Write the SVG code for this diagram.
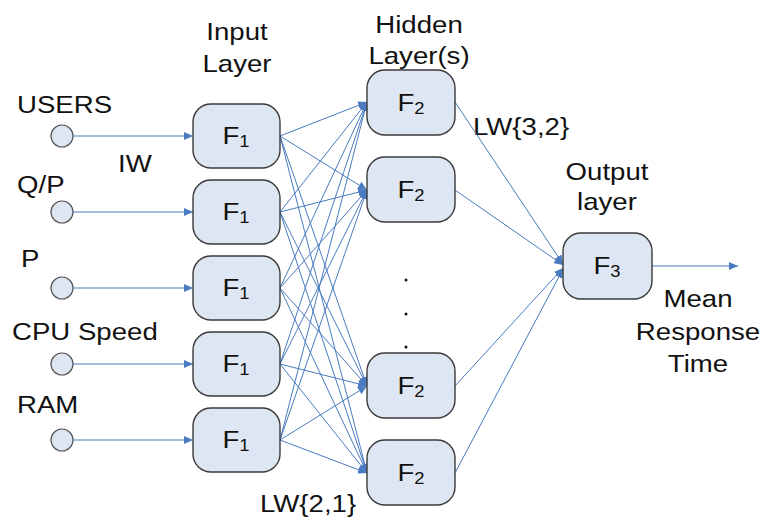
<svg xmlns="http://www.w3.org/2000/svg" width="762" height="520" viewBox="0 0 762 520">
  <style>
    text { font-family: "Liberation Sans", Arial, sans-serif; font-size: 24px; fill: #111; }
    .mid { text-anchor: middle; }
    .sub { font-size: 16px; }
    .box { fill: #dde6f2; stroke: #3a3a3a; stroke-width: 1.4; }
    .inp { fill: #dde6f2; stroke: #555; stroke-width: 1.2; }
    .wire { stroke: #4a7bc0; stroke-width: 1; fill: none; marker-end: url(#arr); }
    .dot { fill: #111; }
  </style>
  <defs>
    <marker id="arr" markerUnits="userSpaceOnUse" markerWidth="10" markerHeight="8" refX="9" refY="4" orient="auto">
      <path d="M0,0 L9,4 L0,8 Z" fill="#4a7bc0"/>
    </marker>
  </defs>
  <rect width="762" height="520" fill="#fff"/>

  <!-- layer captions (type is set slightly wide) -->
  <g id="captions">
    <text class="mid" transform="translate(237 40) scale(1.15 1)">Input</text>
    <text class="mid" transform="translate(237 72) scale(1.15 1)">Layer</text>
    <text class="mid" transform="translate(419 33) scale(1.15 1)">Hidden</text>
    <text class="mid" transform="translate(419 64) scale(1.15 1)">Layer(s)</text>
    <text class="mid" transform="translate(607 180) scale(1.15 1)">Output</text>
    <text class="mid" transform="translate(607 210) scale(1.15 1)">layer</text>
    <text class="mid" transform="translate(698 307) scale(1.15 1)">Mean</text>
    <text class="mid" transform="translate(698 340) scale(1.15 1)">Response</text>
    <text class="mid" transform="translate(698 372) scale(1.15 1)">Time</text>
    <text transform="translate(118 172) scale(1.15 1)">IW</text>
    <text transform="translate(473 135) scale(1.15 1)">LW{3,2}</text>
    <text transform="translate(260 512) scale(1.15 1)">LW{2,1}</text>
  </g>

  <!-- connectors -->
  <g id="connectors">
    <!-- inputs to input layer -->
    <line class="wire" x1="73" y1="136" x2="193" y2="136"/>
    <line class="wire" x1="73" y1="212" x2="193" y2="212"/>
    <line class="wire" x1="73" y1="288" x2="193" y2="288"/>
    <line class="wire" x1="73" y1="364" x2="193" y2="364"/>
    <line class="wire" x1="73" y1="440" x2="193" y2="440"/>
    <!-- input layer to hidden layer -->
    <line class="wire" x1="280" y1="136" x2="367" y2="102"/>
    <line class="wire" x1="280" y1="136" x2="367" y2="190"/>
    <line class="wire" x1="280" y1="136" x2="367" y2="386"/>
    <line class="wire" x1="280" y1="136" x2="367" y2="473"/>
    <line class="wire" x1="280" y1="212" x2="367" y2="102"/>
    <line class="wire" x1="280" y1="212" x2="367" y2="190"/>
    <line class="wire" x1="280" y1="212" x2="367" y2="386"/>
    <line class="wire" x1="280" y1="212" x2="367" y2="473"/>
    <line class="wire" x1="280" y1="288" x2="367" y2="102"/>
    <line class="wire" x1="280" y1="288" x2="367" y2="190"/>
    <line class="wire" x1="280" y1="288" x2="367" y2="386"/>
    <line class="wire" x1="280" y1="288" x2="367" y2="473"/>
    <line class="wire" x1="280" y1="364" x2="367" y2="102"/>
    <line class="wire" x1="280" y1="364" x2="367" y2="190"/>
    <line class="wire" x1="280" y1="364" x2="367" y2="386"/>
    <line class="wire" x1="280" y1="364" x2="367" y2="473"/>
    <line class="wire" x1="280" y1="440" x2="367" y2="102"/>
    <line class="wire" x1="280" y1="440" x2="367" y2="190"/>
    <line class="wire" x1="280" y1="440" x2="367" y2="386"/>
    <line class="wire" x1="280" y1="440" x2="367" y2="473"/>
    <!-- hidden layer to output -->
    <line class="wire" x1="455" y1="102" x2="563" y2="264"/>
    <line class="wire" x1="455" y1="190" x2="563" y2="265"/>
    <line class="wire" x1="455" y1="386" x2="563" y2="268"/>
    <line class="wire" x1="455" y1="473" x2="563" y2="269"/>
    <!-- output -->
    <line class="wire" x1="652" y1="266" x2="738" y2="266"/>
  </g>

  <!-- input variables -->
  <g id="in-users">
    <circle class="inp" cx="62" cy="136" r="11"/>
    <text transform="translate(17 113) scale(1.15 1)">USERS</text>
  </g>
  <g id="in-qp">
    <circle class="inp" cx="62" cy="212" r="11"/>
    <text transform="translate(17 193) scale(1.15 1)">Q/P</text>
  </g>
  <g id="in-p">
    <circle class="inp" cx="62" cy="288" r="11"/>
    <text transform="translate(21 267) scale(1.15 1)">P</text>
  </g>
  <g id="in-cpu">
    <circle class="inp" cx="62" cy="364" r="11"/>
    <text transform="translate(12 340) scale(1.15 1)">CPU Speed</text>
  </g>
  <g id="in-ram">
    <circle class="inp" cx="62" cy="440" r="11"/>
    <text transform="translate(17 413) scale(1.15 1)">RAM</text>
  </g>

  <!-- input layer -->
  <g id="f1-1">
    <rect class="box" x="193" y="104" width="87" height="64" rx="18"/>
    <text class="mid" transform="translate(236 144) scale(1.15 1)">F<tspan class="sub" dy="3">1</tspan></text>
  </g>
  <g id="f1-2">
    <rect class="box" x="193" y="180" width="87" height="64" rx="18"/>
    <text class="mid" transform="translate(236 220) scale(1.15 1)">F<tspan class="sub" dy="3">1</tspan></text>
  </g>
  <g id="f1-3">
    <rect class="box" x="193" y="256" width="87" height="64" rx="18"/>
    <text class="mid" transform="translate(236 296) scale(1.15 1)">F<tspan class="sub" dy="3">1</tspan></text>
  </g>
  <g id="f1-4">
    <rect class="box" x="193" y="332" width="87" height="64" rx="18"/>
    <text class="mid" transform="translate(236 372) scale(1.15 1)">F<tspan class="sub" dy="3">1</tspan></text>
  </g>
  <g id="f1-5">
    <rect class="box" x="193" y="408" width="87" height="64" rx="18"/>
    <text class="mid" transform="translate(236 448) scale(1.15 1)">F<tspan class="sub" dy="3">1</tspan></text>
  </g>

  <!-- hidden layer -->
  <g id="f2-1">
    <rect class="box" x="367" y="70" width="88" height="65" rx="18"/>
    <text class="mid" transform="translate(411 111) scale(1.15 1)">F<tspan class="sub" dy="3">2</tspan></text>
  </g>
  <g id="f2-2">
    <rect class="box" x="367" y="157" width="88" height="65" rx="18"/>
    <text class="mid" transform="translate(411 198) scale(1.15 1)">F<tspan class="sub" dy="3">2</tspan></text>
  </g>
  <g id="f2-3">
    <rect class="box" x="367" y="353" width="88" height="65" rx="18"/>
    <text class="mid" transform="translate(411 394) scale(1.15 1)">F<tspan class="sub" dy="3">2</tspan></text>
  </g>
  <g id="f2-4">
    <rect class="box" x="367" y="440" width="88" height="65" rx="18"/>
    <text class="mid" transform="translate(411 481) scale(1.15 1)">F<tspan class="sub" dy="3">2</tspan></text>
  </g>
  <g id="ellipsis">
    <circle class="dot" cx="406" cy="280" r="1.5"/>
    <circle class="dot" cx="406" cy="314" r="1.5"/>
    <circle class="dot" cx="406" cy="347" r="1.5"/>
  </g>

  <!-- output layer -->
  <g id="f3">
    <rect class="box" x="563" y="233" width="89" height="66" rx="18"/>
    <text class="mid" transform="translate(607 274) scale(1.15 1)">F<tspan class="sub" dy="3">3</tspan></text>
  </g>
</svg>
